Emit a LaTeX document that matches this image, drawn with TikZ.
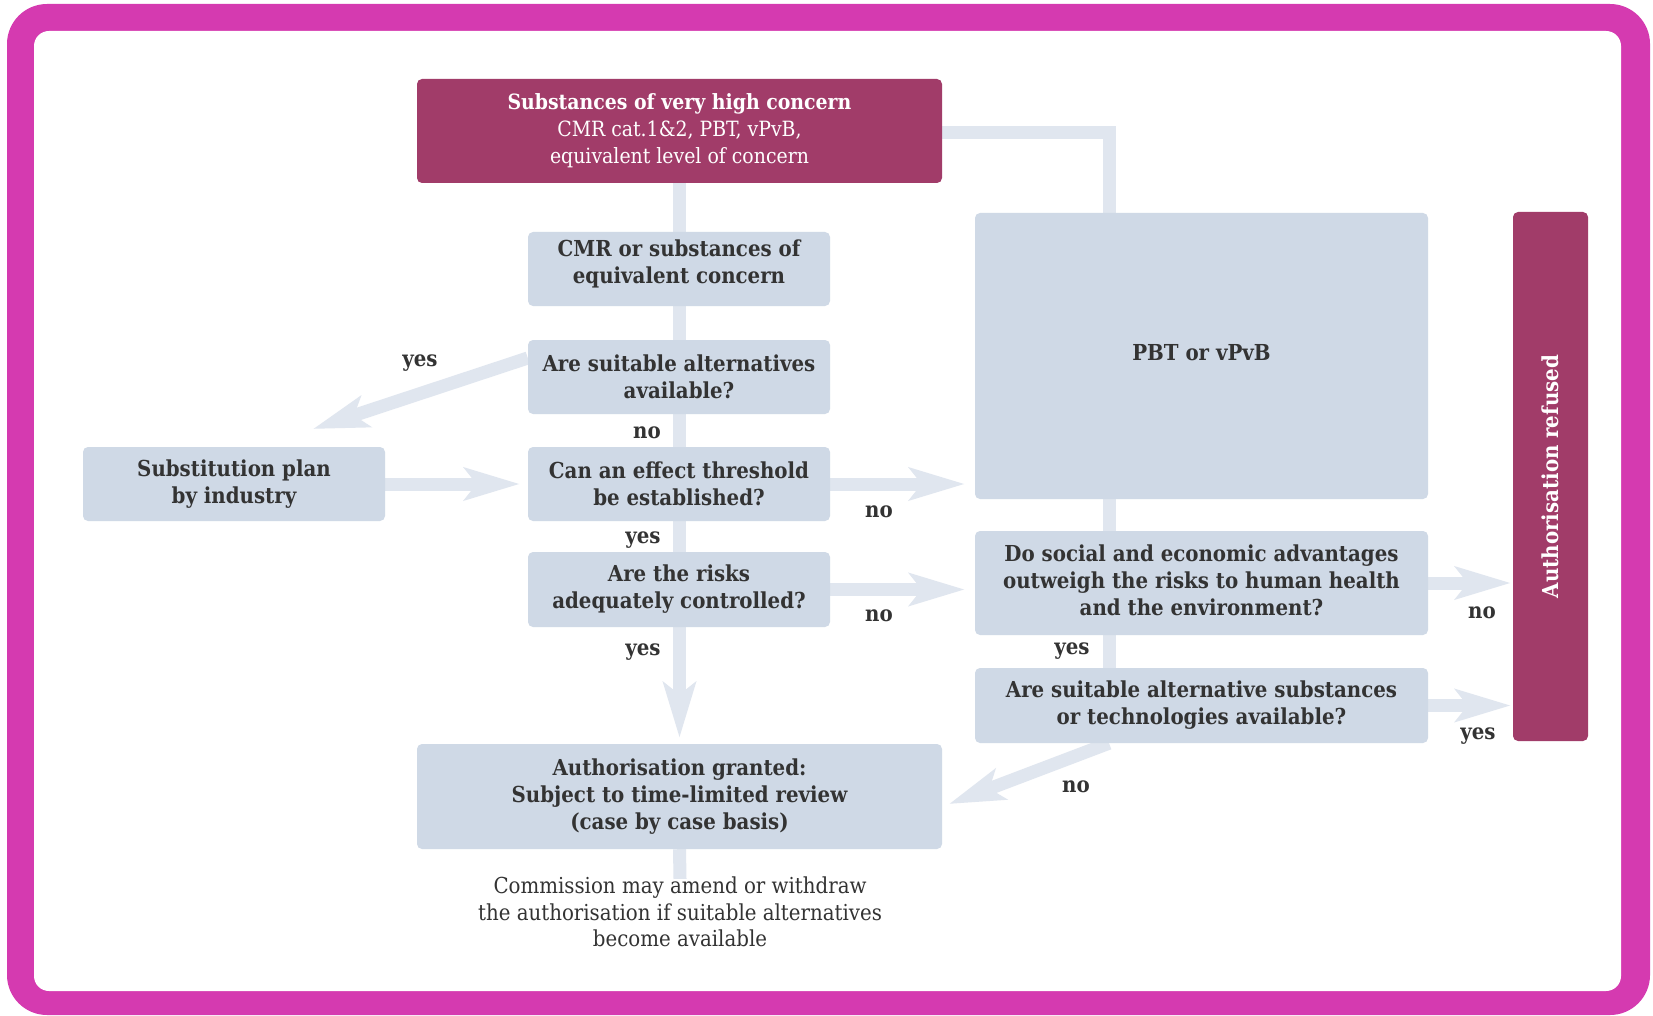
\documentclass[tikz,border=0pt]{standalone}
\usepackage{fontspec}
\setmainfont{DejaVu Serif Condensed}
\usetikzlibrary{arrows.meta,backgrounds}
\definecolor{framec}{HTML}{D53AB0}
\definecolor{darkc}{HTML}{A13C69}
\definecolor{boxc}{HTML}{CFD9E6}
\definecolor{connc}{HTML}{E0E6EF}
\definecolor{txtc}{HTML}{333333}
\tikzset{
  box/.style={fill=boxc, rounded corners=5pt, text=txtc, align=center, inner sep=0pt,
    font=\bfseries\fontsize{22}{27}\selectfont},
  btext/.style={text=txtc, align=center, inner sep=0pt, font=\bfseries\fontsize{22}{27}\selectfont},
  darkbox/.style={fill=darkc, rounded corners=5pt, text=white, align=center, inner sep=0pt,
    font=\fontsize{21}{27}\selectfont},
  conn/.style={draw=connc, line width=13pt},
  arr/.style={conn, -{Stealth[length=55pt,width=32pt,inset=12pt]}},
  lab/.style={text=txtc, inner sep=0pt, font=\bfseries\fontsize{22}{26}\selectfont},
}
\begin{document}
\begin{tikzpicture}[x=1pt,y=-1pt]
\useasboundingbox (0,0) rectangle (1653,1016);
\begin{scope}[on background layer]
\fill[framec, rounded corners=40pt] (7,4) rectangle (1650,1015);
\fill[white, rounded corners=15pt] (34,31) rectangle (1621,991);
\end{scope}

% nodes
\node[darkbox, minimum width=525pt, minimum height=104pt] (top) at (679.5,131)
  {\textbf{Substances of very high concern}\\
   CMR cat.1\&2, PBT, vPvB,\\
   equivalent level of concern};
\node[box, minimum width=302pt, minimum height=74pt] (cmr) at (679,269) {};
\node[btext] (cmrtxt) at ([yshift=5pt]cmr.center) {CMR or substances of\\equivalent concern};
\node[box, minimum width=302pt, minimum height=74pt] (alt) at (679,377)
  {Are suitable alternatives\\available?};
\node[box, minimum width=302pt, minimum height=74pt] (thr) at (679,484)
  {Can an effect threshold\\be established?};
\node[box, minimum width=302pt, minimum height=75pt] (risk) at (679,589.5)
  {Are the risks\\adequately controlled?};
\node[box, minimum width=525pt, minimum height=105pt] (granted) at (679.5,796.5)
  {Authorisation granted:\\Subject to time-limited review\\(case by case basis)};
\node[box, minimum width=302pt, minimum height=74pt] (subst) at (234,484)
  {Substitution plan\\by industry};
\node[box, minimum width=453pt, minimum height=286pt] (pbt) at (1201.5,356) {};
\node[btext] (pbttxt) at ([yshift=3pt]pbt.center) {PBT or vPvB};
\node[box, minimum width=453pt, minimum height=104pt] (social) at (1201.5,583) {};
\node[btext] (socialtxt) at ([yshift=3pt]social.center)
  {Do social and economic advantages\\outweigh the risks to human health\\and the environment?};
\node[box, minimum width=453pt, minimum height=75pt] (altsub) at (1201.5,705.5)
  {Are suitable alternative substances\\or technologies available?};
\node[darkbox, minimum width=75pt, minimum height=529pt] (refused) at (1550.5,476.5) {};
\node[text=white, rotate=90, inner sep=0pt, font=\bfseries\fontsize{22}{26}\selectfont] (reftxt) at (refused.center) {Authorisation refused};
\node[text=txtc, align=center, inner sep=0pt, font=\fontsize{22}{26.4}\selectfont] (note) at (680,912)
  {Commission may amend or withdraw\\the authorisation if suitable alternatives\\become available};

% coordinates
\coordinate (ytip) at (313,429);
\coordinate (rx) at (1109,133);
\coordinate (gtip) at (949,804);

% connectors
\begin{scope}[on background layer]
\draw[arr] (top.south) -- ([yshift=6pt]granted.north);
\draw[conn] (granted.south) -- ([yshift=-2pt]note.north);
\draw[conn] (top.east |- rx) -- (rx) -- (rx |- pbt.north);
\draw[conn] (rx |- pbt.south) -- (rx |- social.north);
\draw[conn] (rx |- social.south) -- (rx |- altsub.north);
\draw[arr] ([yshift=19pt]alt.west) -- (ytip);
\draw[arr] (subst.east) -- ([xshift=-8pt]thr.west);
\draw[arr] (thr.east) -- ([xshift=-10pt]thr.east -| pbt.west);
\draw[arr] (risk.east) -- ([xshift=-10pt]risk.east -| pbt.west);
\draw[arr] (social.east) -- ([xshift=-2pt]social.east -| refused.west);
\draw[arr] (altsub.east) -- ([xshift=-2pt]altsub.east -| refused.west);
\draw[arr] (rx |- altsub.south) -- (gtip);
\end{scope}

% labels
\node[lab] (l1) at (420,363) {yes};
\node[lab] (l2) at (647,433) {no};
\node[lab] (l3) at (879,512) {no};
\node[lab] (l4) at (643,540) {yes};
\node[lab] (l5) at (879,616) {no};
\node[lab] (l6) at (643,652) {yes};
\node[lab] (l7) at (1072,651) {yes};
\node[lab] (l8) at (1482,613) {no};
\node[lab] (l9) at (1478,736) {yes};
\node[lab] (l10) at (1076,787) {no};
\end{tikzpicture}
\end{document}
